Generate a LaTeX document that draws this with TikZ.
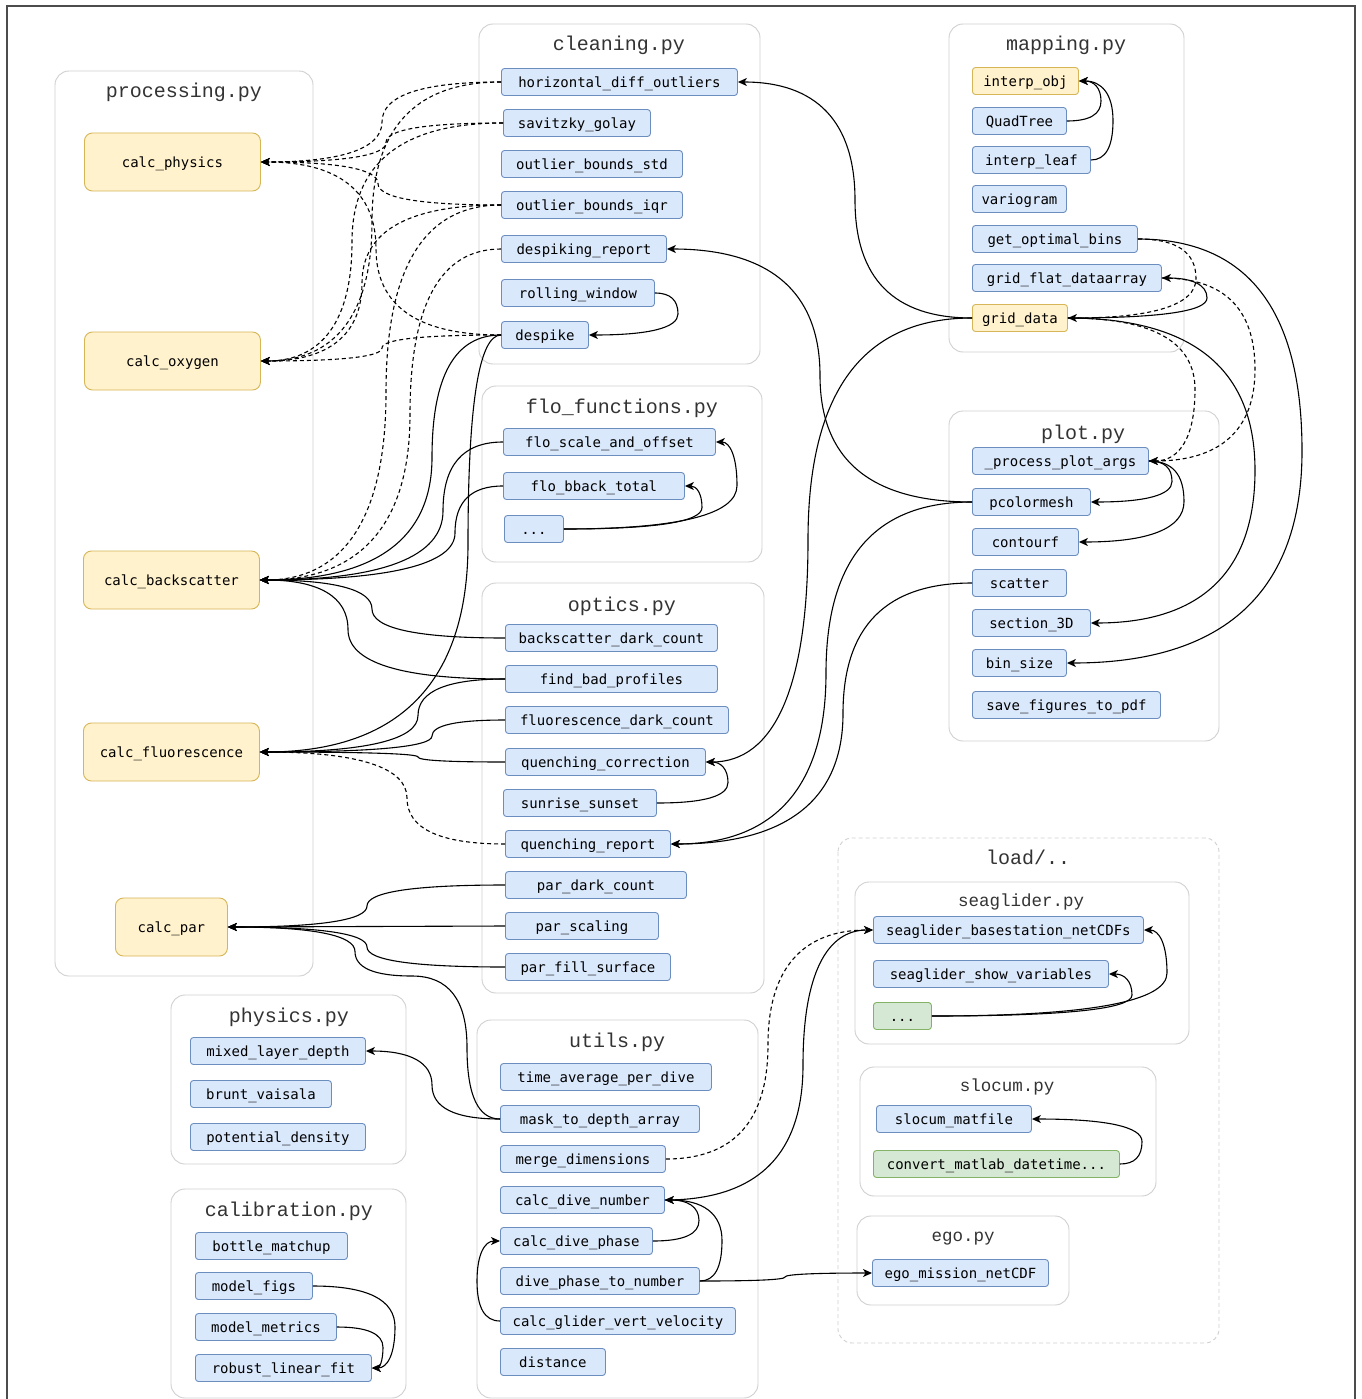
\documentclass[tikz,border=0pt]{standalone}
\usepackage{fontspec}
\newfontfamily\nodefontfam{DejaVu Sans Mono}
\newfontfamily\titlefontfam{Liberation Mono}
\usetikzlibrary{arrows.meta,calc}
\definecolor{bfill}{HTML}{DAE8FC}
\definecolor{bline}{HTML}{6C8EBF}
\definecolor{yfill}{HTML}{FFF2CC}
\definecolor{yline}{HTML}{D6B656}
\definecolor{gfill}{HTML}{D5E8D4}
\definecolor{gline}{HTML}{82B366}
\definecolor{cline}{HTML}{D0D0D0}
\definecolor{ttlcol}{HTML}{333333}
\newcommand{\myfnfont}{\nodefontfam\fontsize{14pt}{16pt}\selectfont}
\newcommand{\myttlfont}{\titlefontfam\fontsize{20pt}{22pt}\selectfont}
\newcommand{\mysttlfont}{\titlefontfam\fontsize{17.5pt}{19pt}\selectfont}
\tikzset{
  fnb/.style={draw=bline, fill=bfill, line width=0.9pt, rounded corners=3pt,
    minimum width=#1pt, minimum height=27pt, inner sep=0pt, anchor=west,
    font=\myfnfont, text height=13.4pt, text depth=3.3pt},
  fny/.style={fnb=#1, draw=yline, fill=yfill},
  fng/.style={fnb=#1, draw=gline, fill=gfill},
  proc/.style={draw=yline, fill=yfill, line width=0.9pt, rounded corners=8pt,
    minimum width=#1pt, minimum height=58pt, inner sep=0pt, anchor=west,
    font=\myfnfont, text height=13.4pt, text depth=3.3pt},
  grp/.style={draw=cline, line width=0.9pt, rounded corners=14pt},
  dgrp/.style={grp, dash pattern=on 4pt off 3pt},
  ttl/.style={font=\myttlfont, anchor=base, text=ttlcol, inner sep=0pt},
  sttl/.style={font=\mysttlfont, anchor=base, text=ttlcol, inner sep=0pt},
  link/.style={line width=1.1pt, -{Stealth[length=9pt,width=8pt,inset=2.5pt]}},
  dlink/.style={link, dash pattern=on 4pt off 3pt},
  oc/.style={to path={let \p1=(\tikztostart), \p2=(\tikztotarget) in
    .. controls ({\x1+2/3*(#1pt-\x1)},\y1) and (#1pt,{(\y1+\y2)/2+(\y1-\y2)/3})
    .. (#1pt,{(\y1+\y2)/2})
    .. controls (#1pt,{(\y1+\y2)/2+(\y2-\y1)/3}) and ({\x2+2/3*(#1pt-\x2)},\y2)
    .. (\tikztotarget)}}
}
\begin{document}
\begin{tikzpicture}[x=1pt,y=-1pt]
\clip (0,0) rectangle (1361,1399);
\fill[white] (0,0) rectangle (1361,1399);
% outer frame
\draw[line width=1.2pt, black!70] (7,1405) -- (7,6) -- (1355,6) -- (1355,1405);

% containers
\draw[grp] (55,71) rectangle (313,976);
\draw[grp] (479,24) rectangle (760,364);
\draw[grp] (949,24) rectangle (1184,352);
\draw[grp] (482,386) rectangle (762,562);
\draw[grp] (949,411) rectangle (1219,741);
\draw[grp] (482,583) rectangle (764,993);
\draw[dgrp] (838,838) rectangle (1219,1343);
\draw[grp] (855,882) rectangle (1189,1044);
\draw[grp] (860,1067) rectangle (1156,1196);
\draw[grp] (857,1216) rectangle (1069,1305);
\draw[grp] (171,995) rectangle (406,1164);
\draw[grp] (171,1189) rectangle (406,1398);
\draw[grp] (477,1020) rectangle (758,1398);

% titles
\node[ttl] (tproc) at (184,98) {processing.py};
\node[ttl] (tclean) at (619,51) {cleaning.py};
\node[ttl] (tmap) at (1066,51) {mapping.py};
\node[ttl] (tflo) at (622,413) {flo\_functions.py};
\node[ttl] (tplot) at (1083,439) {plot.py};
\node[ttl] (topt) at (622,611) {optics.py};
\node[ttl] (tload) at (1028,864) {load/..};
\node[sttl] (tsea) at (1021,906) {seaglider.py};
\node[sttl] (tslo) at (1007,1091) {slocum.py};
\node[sttl] (tego) at (963,1241) {ego.py};
\node[ttl] (tphys) at (289,1022) {physics.py};
\node[ttl] (tcal) at (289,1216) {calibration.py};
\node[ttl] (tutil) at (617,1047) {utils.py};

% processing
\node[proc=176] (cphys) at (84,162) {calc\_physics};
\node[proc=176] (coxy) at (84,361) {calc\_oxygen};
\node[proc=176] (cbs) at (83,580) {calc\_backscatter};
\node[proc=176] (cfl) at (83,752) {calc\_fluorescence};
\node[proc=112] (cpar) at (115,927) {calc\_par};

% cleaning
\node[fnb=236] (hdo) at (501,82) {horizontal\_diff\_outliers};
\node[fnb=147] (sav) at (503,123) {savitzky\_golay};
\node[fnb=181] (obstd) at (501,164) {outlier\_bounds\_std};
\node[fnb=181] (obiqr) at (501,205) {outlier\_bounds\_iqr};
\node[fnb=165] (dsr) at (501,249) {despiking\_report};
\node[fnb=153] (rw) at (501,293) {rolling\_window};
\node[fnb=87] (dsp) at (501,335) {despike};

% flo_functions
\node[fnb=212] (fso) at (503,442) {flo\_scale\_and\_offset};
\node[fnb=181] (fbt) at (503,486) {flo\_bback\_total};
\node[fnb=59] (fdots) at (504,529) {...};

% optics
\node[fnb=212] (bdc) at (505,638) {backscatter\_dark\_count};
\node[fnb=212] (fbp) at (505,679) {find\_bad\_profiles};
\node[fnb=223] (fdc) at (505,720) {fluorescence\_dark\_count};
\node[fnb=200] (qc) at (505,762) {quenching\_correction};
\node[fnb=153] (ss) at (503,803) {sunrise\_sunset};
\node[fnb=165] (qr) at (505,844) {quenching\_report};
\node[fnb=181] (pdc) at (505,885) {par\_dark\_count};
\node[fnb=153] (ps) at (505,926) {par\_scaling};
\node[fnb=165] (pfs) at (505,967) {par\_fill\_surface};

% mapping
\node[fny=106] (iobj) at (972,81) {interp\_obj};
\node[fnb=94] (qt) at (972,121) {QuadTree};
\node[fnb=118] (ileaf) at (972,160) {interp\_leaf};
\node[fnb=94] (vario) at (972,199) {variogram};
\node[fnb=165] (gob) at (972,239) {get\_optimal\_bins};
\node[fnb=189] (gfd) at (972,278) {grid\_flat\_dataarray};
\node[fny=95] (gd) at (972,318) {grid\_data};

% plot
\node[fnb=176] (ppa) at (972,461) {\_process\_plot\_args};
\node[fnb=118] (pcm) at (972,502) {pcolormesh};
\node[fnb=106] (ctf) at (972,542) {contourf};
\node[fnb=94] (sct) at (972,583) {scatter};
\node[fnb=118] (s3d) at (972,623) {section\_3D};
\node[fnb=94] (bsz) at (972,663) {bin\_size};
\node[fnb=188] (sfp) at (972,705) {save\_figures\_to\_pdf};

% utils
\node[fnb=211] (tapd) at (500,1077) {time\_average\_per\_dive};
\node[fnb=199] (mtda) at (500,1119) {mask\_to\_depth\_array};
\node[fnb=165] (md) at (500,1159) {merge\_dimensions};
\node[fnb=164] (cdn) at (500,1200) {calc\_dive\_number};
\node[fnb=152] (cdp) at (500,1241) {calc\_dive\_phase};
\node[fnb=199] (dptn) at (500,1281) {dive\_phase\_to\_number};
\node[fnb=235] (cgvv) at (500,1321) {calc\_glider\_vert\_velocity};
\node[fnb=105] (dist) at (500,1362) {distance};

% physics
\node[fnb=175] (mld) at (190,1051) {mixed\_layer\_depth};
\node[fnb=141] (bv) at (190,1094) {brunt\_vaisala};
\node[fnb=175] (pd) at (190,1137) {potential\_density};

% calibration
\node[fnb=152] (bm) at (195,1246) {bottle\_matchup};
\node[fnb=117] (mf) at (195,1286) {model\_figs};
\node[fnb=141] (mm) at (195,1327) {model\_metrics};
\node[fnb=176] (rlf) at (195,1368) {robust\_linear\_fit};

% load
\node[fnb=270] (sbn) at (873,930) {seaglider\_basestation\_netCDFs};
\node[fnb=235] (ssv) at (873,974) {seaglider\_show\_variables};
\node[fng=58] (sdots) at (873,1016) {...};
\node[fnb=155] (smf) at (876,1119) {slocum\_matfile};
\node[fng=246] (cmd) at (873,1164) {convert\_matlab\_datetime...};
\node[fnb=176] (emn) at (872,1273) {ego\_mission\_netCDF};

% ---- connectors: cleaning -> processing (dashed)
\draw[dlink] (hdo.west) to[oc=382] (cphys.east);
\draw[dlink] (hdo.west) to[oc=372] (coxy.east);
\draw[dlink] (sav.west) to[oc=386] (cphys.east);
\draw[dlink] (sav.west) to[oc=352] (coxy.east);
\draw[dlink] (obiqr.west) to[oc=378] (cphys.east);
\draw[dlink] (obiqr.west) to[oc=362] (coxy.east);
\draw[dlink] (obiqr.west) to[oc=386] (cbs.east);
\draw[dlink] (dsr.west) to[oc=410] (cbs.east);
\draw[dlink] (dsp.west) to[oc=376] (cphys.east);
\draw[dlink] (dsp.west) to[oc=382] (coxy.east);

% ---- solid to processing
\draw[link] (dsp.west) to[oc=432] (cbs.east);
\draw[link] (dsp.west) to[oc=468] (cfl.east);
\draw[link] (fso.west) to[oc=443] (cbs.east);
\draw[link] (fbt.west) to[oc=455] (cbs.east);
\draw[link] (bdc.west) to[oc=372] (cbs.east);
\draw[link] (fbp.west) to[oc=348] (cbs.east);
\draw[link] (fbp.west) to[oc=418] (cfl.east);
\draw[link] (fdc.west) to[oc=432] (cfl.east);
\draw[link] (qc.west) to[oc=418] (cfl.east);
\draw[dlink] (qr.west) to[oc=407] (cfl.east);
\draw[link] (pdc.west) to[oc=367] (cpar.east);
\draw[link] (ps.west) -- (cpar.east);
\draw[link] (pfs.west) to[oc=367] (cpar.east);
\draw[link] (mtda.west) to[oc=467] (412,976) to[oc=355] (cpar.east);
\draw[link] (mtda.west) to[oc=432] (mld.east);

% ---- inside cleaning / flo / optics
\draw[link] (rw.east) to[oc=678] (dsp.east);
\draw[link] (fdots.east) to[oc=737] (fso.east);
\draw[link] (fdots.east) to[oc=702] (fbt.east);
\draw[link] (ss.east) to[oc=728] (qc.east);

% ---- mapping / plot -> others
\draw[link] (gd.west) to[oc=855] (hdo.east);
\draw[link] (gd.west) to[oc=808] (qc.east);
\draw[link] (pcm.west) to[oc=820] (dsr.east);
\draw[link] (pcm.west) to[oc=826] (qr.east);
\draw[link] (sct.west) to[oc=843] (qr.east);

% ---- mapping internal
\draw[link] (qt.east) to[oc=1101] (iobj.east);
\draw[link] (ileaf.east) to[oc=1113] (iobj.east);
\draw[link] (gd.east) to[oc=1207] (gfd.east);
\draw[dlink] (gob.east) to[oc=1196] (gd.east);
\draw[dlink] (gd.east) to[oc=1195] (ppa.east);
\draw[dlink] (gfd.east) to[oc=1255] (ppa.east);
\draw[link] (gob.east) to[oc=1302] (bsz.east);
\draw[link] (gd.east) to[oc=1255] (s3d.east);

% ---- plot internal
\draw[link] (ppa.east) to[oc=1172] (pcm.east);
\draw[link] (ppa.east) to[oc=1184] (ctf.east);

% ---- utils / load
\draw[dlink] (md.east) to[oc=768] (sbn.west);
\draw[link] (cdn.east) to[oc=803] (sbn.west);
\draw[link] (sdots.east) to[oc=1167] (sbn.east);
\draw[link] (sdots.east) to[oc=1132] (ssv.east);
\draw[link] (cmd.east) to[oc=1142] (smf.east);
\draw[link] (cdp.east) to[oc=699] (cdn.east);
\draw[link] (dptn.east) to[oc=722] (cdn.east);
\draw[link] (dptn.east) to[oc=785] (emn.west);
\draw[link] (cgvv.west) to[oc=477] (cdp.west);

% ---- calibration
\draw[link] (mf.east) to[oc=395] (rlf.east);
\draw[link] (mm.east) to[oc=383] (rlf.east);
\end{tikzpicture}
\end{document}
